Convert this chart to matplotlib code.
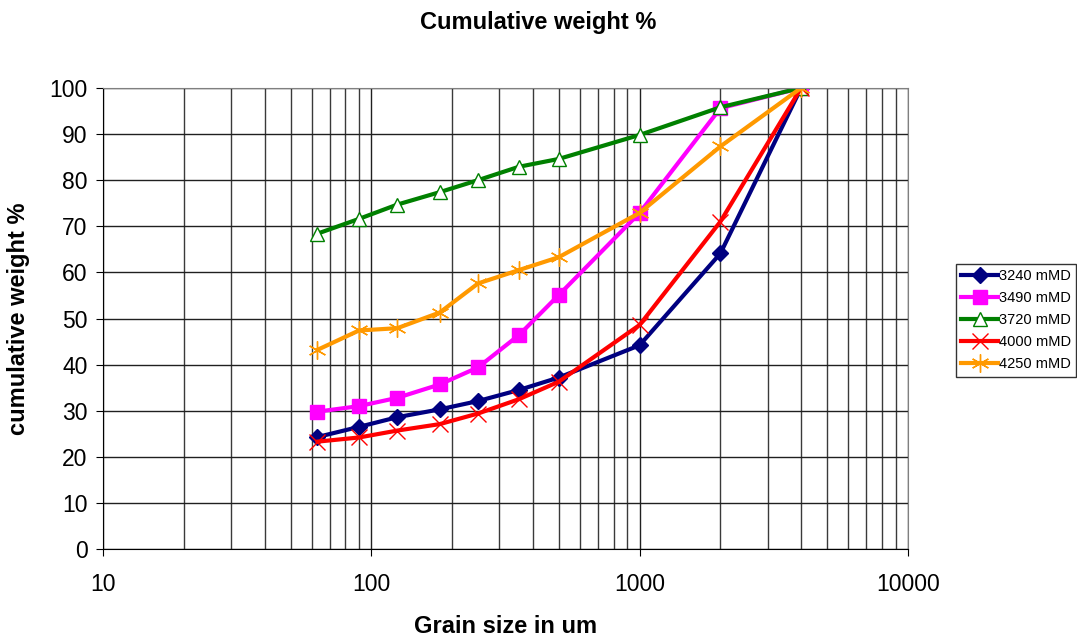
import numpy as np
import matplotlib.pyplot as plt
from matplotlib.ticker import FixedLocator, LogLocator, NullFormatter

plt.rcParams['font.family'] = ['Liberation Sans', 'DejaVu Sans']

# sieve sizes (um)
grain = [63, 90, 125, 180, 250, 355, 500, 1000, 2000, 4000]

# cumulative weight % per depth
w3240 = [24.3, 26.5, 28.6, 30.3, 32.1, 34.5, 37.2, 44.2, 64.1, 100]
w3490 = [29.8, 31.0, 32.8, 35.7, 39.4, 46.4, 55.1, 72.9, 95.6, 100]
w3720 = [68.4, 71.6, 74.7, 77.4, 80.0, 82.9, 84.6, 89.8, 95.8, 100]
w4000 = [23.3, 24.2, 25.7, 27.1, 29.4, 32.5, 36.3, 48.6, 71.0, 100]
w4250 = [43.2, 47.4, 47.9, 51.3, 57.6, 60.5, 63.3, 72.9, 87.3, 100]

fig = plt.figure(figsize=(10.77, 6.37), dpi=100)
ax = fig.add_axes([0.0956, 0.138, 0.7474, 0.724])

lw = 3.0
ax.plot(grain, w3240, color='#000080', lw=lw, marker='D', ms=8, label='3240 mMD')
ax.plot(grain, w3490, color='#ff00ff', lw=lw, marker='s', ms=10, label='3490 mMD')
ax.plot(grain, w3720, color='#008000', lw=lw, marker='^', ms=10, mfc='white',
        mec='#008000', mew=1.0, label='3720 mMD')
ax.plot(grain, w4000, color='#ff0000', lw=lw, marker='x', ms=12, mew=1.0, label='4000 mMD')
ax.plot(grain, w4250, color='#ff9900', lw=lw, marker=(6, 2, 0), ms=13, mew=1.0, label='4250 mMD')

ax.set_xscale('log')
ax.set_xlim(10, 10000)
ax.set_ylim(0, 100)
ax.set_yticks(range(0, 101, 10))
ax.xaxis.set_major_locator(FixedLocator([10, 100, 1000, 10000]))
ax.xaxis.set_minor_locator(LogLocator(base=10, subs=range(2, 10)))
ax.xaxis.set_minor_formatter(NullFormatter())
ax.set_xticklabels(['10', '100', '1000', '10000'])

ax.grid(True, which='major', axis='both', color='#202020', lw=1.0)
ax.grid(True, which='minor', axis='x', color='#3a3a3a', lw=1.0)
ax.set_axisbelow(True)
ax.spines['left'].set_color('black')
ax.spines['bottom'].set_color('black')
ax.spines['top'].set_color('#808080')
ax.spines['right'].set_color('#808080')
ax.tick_params(which='both', length=5, color='black', labelsize=16.5)
ax.tick_params(which='minor', length=0)
ax.tick_params(axis='x', pad=12)
ax.tick_params(axis='y', pad=6)

ax.set_xlabel('Grain size in um', fontsize=17, fontweight='bold', labelpad=14)
ax.set_ylabel('cumulative weight %', fontsize=17, fontweight='bold', labelpad=14)
fig.text(0.5, 0.965, 'Cumulative weight %', ha='center', va='center',
         fontsize=17, fontweight='bold')

leg = ax.legend(loc='center left', bbox_to_anchor=(0.888, 0.497), bbox_transform=fig.transFigure,
                fontsize=10.5, frameon=True, fancybox=False, edgecolor='black',
                handlelength=2.5, handletextpad=0.05, labelspacing=0.55, borderpad=0.35,
                borderaxespad=0)
leg.get_frame().set_linewidth(1.0)

fig.savefig('out.png', dpi=100)
